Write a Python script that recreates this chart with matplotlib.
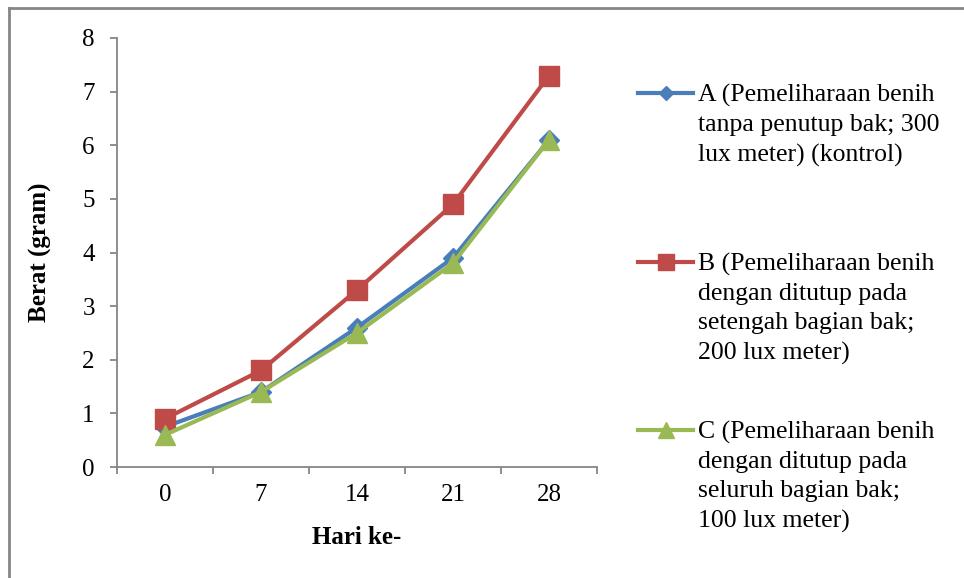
import numpy as np
import matplotlib
matplotlib.use("Agg")
import matplotlib.pyplot as plt
from matplotlib.lines import Line2D

plt.rcParams["font.family"] = ["Liberation Serif", "DejaVu Serif"]

days = ["0", "7", "14", "21", "28"]
berat_a = [0.75, 1.4, 2.6, 3.9, 6.1]
berat_b = [0.9, 1.8, 3.3, 4.9, 7.3]
berat_c = [0.6, 1.4, 2.5, 3.8, 6.1]

labels = [
    "A (Pemeliharaan benih\ntanpa penutup bak; 300\nlux meter) (kontrol)",
    "B (Pemeliharaan benih\ndengan ditutup pada\nsetengah bagian bak;\n200 lux meter)",
    "C (Pemeliharaan benih\ndengan ditutup pada\nseluruh bagian bak;\n100 lux meter)",
]
colors = ["#4A7EBB", "#BE4B48", "#98B954"]
markers = ["D", "s", "^"]
msizes = [10, 15, 15]
AXIS_GREY = "#868686"

W, H = 964, 578
fig = plt.figure(figsize=(W / 100, H / 100), dpi=100)
ax = fig.add_axes([117 / W, 1 - 467 / H, (597 - 117) / W, (467 - 38) / H])

x = np.arange(len(days))
for vals, c, m, ms in zip([berat_a, berat_b, berat_c], colors, markers, msizes):
    ax.plot(x, vals, color=c, lw=3, marker=m, ms=ms, mec=c, mfc=c, clip_on=False, zorder=3)

ax.set_xlim(-0.5, len(days) - 0.5)
ax.set_ylim(0, 8)
ax.set_yticks(range(0, 9))
ax.set_xticks(x)
ax.set_xticklabels(days)
ax.set_xticks(np.arange(-0.5, len(days), 1), minor=True)
ax.tick_params(axis="x", which="major", length=0, pad=12, labelsize=18)
ax.tick_params(axis="x", which="minor", length=5, width=1.3, color=AXIS_GREY, direction="out")
ax.tick_params(axis="y", length=5, width=1.3, color=AXIS_GREY, pad=11, labelsize=18)

for side in ["top", "right"]:
    ax.spines[side].set_visible(False)
for side in ["left", "bottom"]:
    ax.spines[side].set_color(AXIS_GREY)
    ax.spines[side].set_linewidth(1.3)

ax.set_xlabel("Hari ke-", fontsize=18, fontweight="bold", labelpad=15)
ax.set_ylabel("Berat (gram)", fontsize=18, fontweight="bold", labelpad=22)

# legend drawn by hand so the marker sits on the first text line (Excel style)
first_line_y = [93, 262, 430]
for lab, c, m, ms, yy in zip(labels, colors, markers, msizes, first_line_y):
    fy = 1 - yy / H
    fig.add_artist(Line2D([638 / W, 693 / W], [fy, fy], color=c, lw=3))
    fig.add_artist(Line2D([665.5 / W], [fy], color=c, marker=m, ms=ms * 0.75, mec=c, mfc=c))
    fig.text(698 / W, 1 - (yy - 9) / H, lab, fontsize=18.5, va="top", ha="left",
             linespacing=1.42)

# chart frame
fig.add_artist(Line2D([9 / W, 9 / W], [0, 1 - 8 / H], color=AXIS_GREY, lw=2))
fig.add_artist(Line2D([9 / W, 1], [1 - 8 / H, 1 - 8 / H], color=AXIS_GREY, lw=2))

fig.savefig("out.png", dpi=100)
